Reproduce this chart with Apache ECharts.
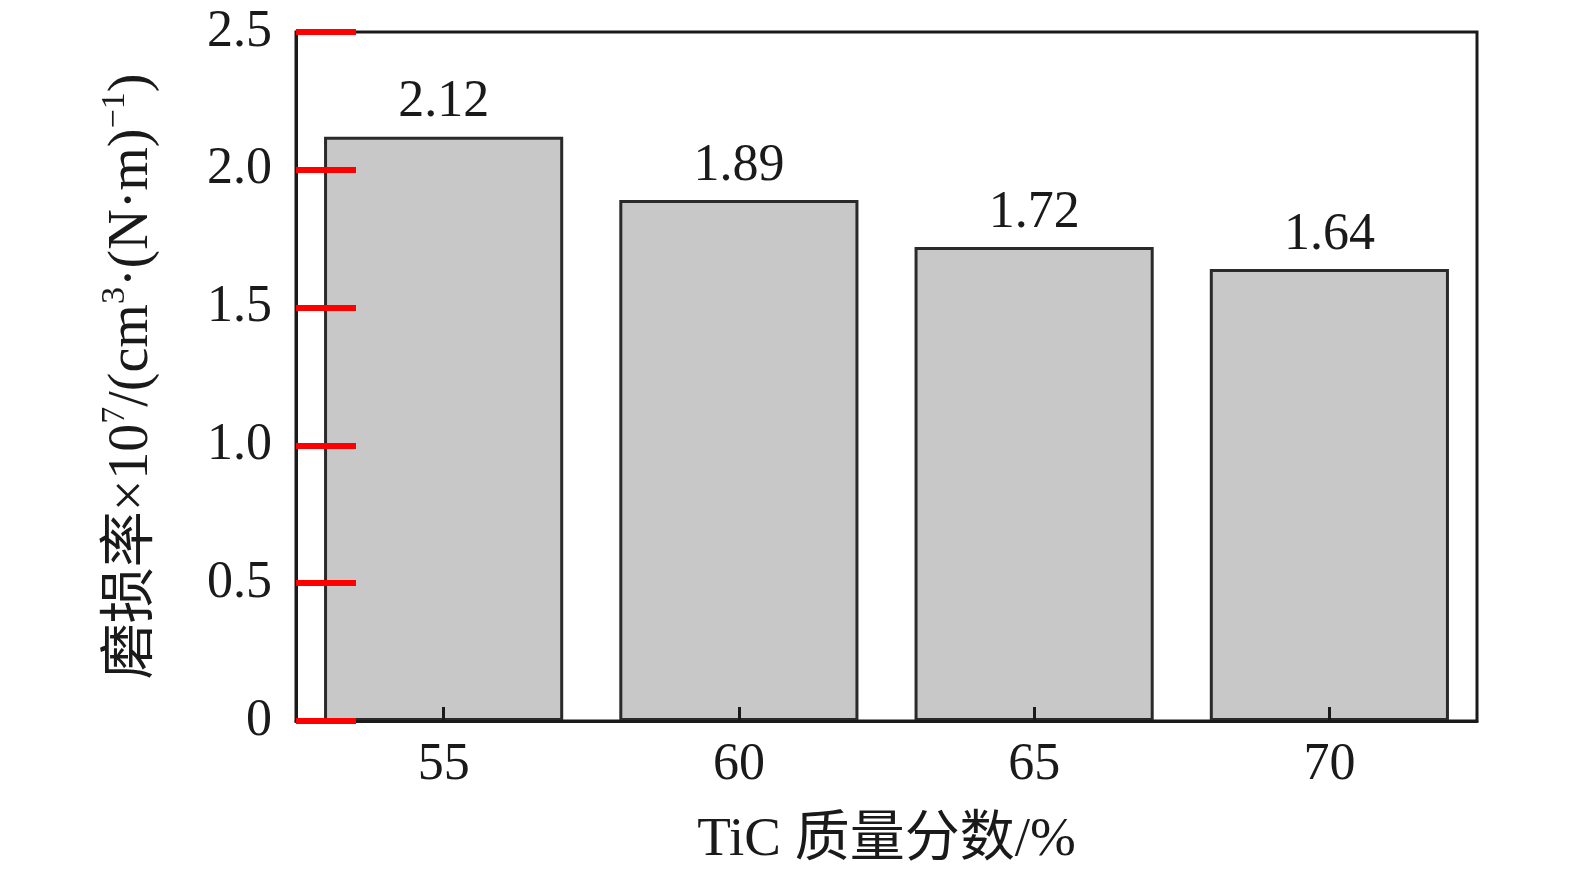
<!DOCTYPE html>
<html>
<head>
<meta charset="utf-8">
<script src="https://cdn.jsdelivr.net/npm/echarts@6/dist/echarts.min.js"></script>
<style>
html,body{margin:0;padding:0;background:#fff;}
#main{width:1575px;height:874px;}
</style>
</head>
<body>
<div id="main"></div>
<script>
// TiC质量分数 与 磨损率
var categories = ['55', '60', '65', '70'];
var wearRate = [2.12, 1.89, 1.72, 1.64];
var yTicks = [0, 0.5, 1.0, 1.5, 2.0, 2.5];

var serif = '"Liberation Serif", "Noto Sans CJK SC", serif';
var ink = '#1a1a1a';

var myChart = echarts.init(document.getElementById('main'));
var option = {
	backgroundColor: '#fff',
	animation: false,
	grid: {
		left: 296, right: 98, top: 32, bottom: 153,
		show: true, borderColor: ink, borderWidth: 3
	},
	xAxis: {
		type: 'category',
		z: 10,
		data: categories,
		name: 'TiC 质量分数/%',
		nameLocation: 'middle',
		nameGap: 92,
		nameTextStyle: { fontFamily: serif, fontSize: 55, color: ink },
		axisLine: { show: true, lineStyle: { color: ink, width: 3 } },
		axisTick: { show: true, inside: true, length: 14, alignWithLabel: true, lineStyle: { color: ink, width: 3 } },
		axisLabel: { fontFamily: serif, fontSize: 52, color: ink, margin: 18 }
	},
	yAxis: {
		type: 'value',
		z: 10,
		min: yTicks[0],
		max: yTicks[yTicks.length - 1],
		interval: 0.5,
		name: '{t|磨损率×10}{s|7}{t|/(cm}{s|3}{t|·(N·m)}{s|−1}{t|)}',
		nameLocation: 'middle',
		nameRotate: 90,
		nameGap: 136,
		nameTextStyle: {
			rich: {
				t: { fontFamily: serif, fontSize: 56, color: ink, lineHeight: 62, verticalAlign: 'bottom' },
				s: { fontFamily: serif, fontSize: 34, color: ink, lineHeight: 62, verticalAlign: 'top' }
			}
		},
		splitLine: { show: false },
		axisLine: { show: true, lineStyle: { color: ink, width: 3 } },
		axisTick: { show: true, inside: true, length: 60, lineStyle: { color: 'red', width: 6 } },
		axisLabel: {
			fontFamily: serif, fontSize: 52, color: ink, margin: 24,
			formatter: function (v) { return v === 0 ? '0' : v.toFixed(1); }
		}
	},
	series: [{
		type: 'bar',
		data: wearRate,
		barWidth: '81%',
		itemStyle: { color: '#c8c8c8', borderColor: '#2a2a2a', borderWidth: 3 },
		label: {
			show: true, position: 'top', distance: 8,
			fontFamily: serif, fontSize: 52, color: ink,
			formatter: function (p) { return p.value.toFixed(2); }
		}
	}]
};
myChart.setOption(option);
</script>
</body>
</html>
